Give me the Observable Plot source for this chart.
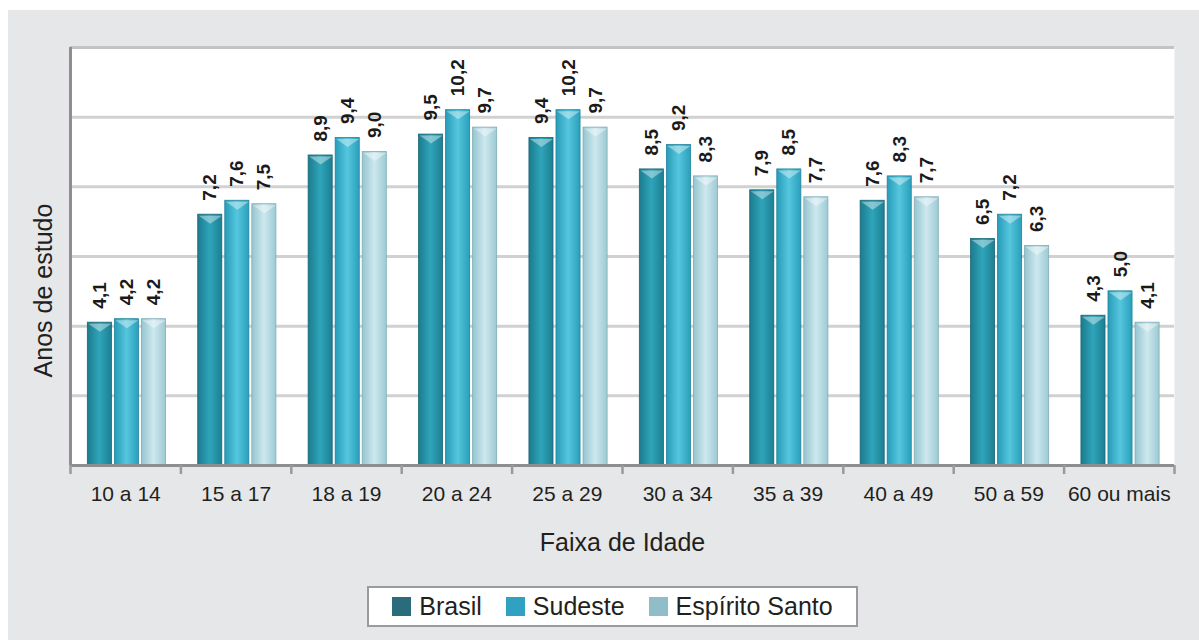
<!DOCTYPE html>
<html>
<head>
<meta charset="utf-8">
<script src="https://cdn.jsdelivr.net/npm/d3@7"></script>
<script src="https://cdn.jsdelivr.net/npm/@observablehq/plot@0.6"></script>
<style>
  html, body { margin: 0; padding: 0; background: #ffffff; }
  body { font-family: "Liberation Sans", Arial, Helvetica, sans-serif; width: 1199px; height: 640px; overflow: hidden; position: relative; }
  #frame { position: absolute; left: 8px; top: 10px; width: 1191px; height: 630px; background: #e6e7e9; }
  #chart svg { display: block; background: transparent; }
  #legend { position: absolute; left: 359px; top: 576px; width: 487px; height: 37px; border: 2px solid #9b9b9d; background: #ffffff;
            display: flex; align-items: center; justify-content: center; font-size: 25px; color: #231f20; }
  .item { display: flex; align-items: center; margin: 0 12px; }
  .sw { width: 19px; height: 19px; margin-right: 8px; }
</style>
</head>
<body>
<div id="frame">
  <div id="chart"></div>
  <div id="legend"></div>
</div>
<script>
const categories = ["10 a 14", "15 a 17", "18 a 19", "20 a 24", "25 a 29", "30 a 34", "35 a 39", "40 a 49", "50 a 59", "60 ou mais"];
const seriesNames = ["Brasil", "Sudeste", "Espírito Santo"];
const brasil = [4.1, 7.2, 8.9, 9.5, 9.4, 8.5, 7.9, 7.6, 6.5, 4.3];
const sudeste = [4.2, 7.6, 9.4, 10.2, 10.2, 9.2, 8.5, 8.3, 7.2, 5.0];
const espiritoSanto = [4.2, 7.5, 9.0, 9.7, 9.7, 8.3, 7.7, 7.7, 6.3, 4.1];
const yGridTicks = [2, 4, 6, 8, 10];
const yMax = 12;

const seriesValues = [brasil, sudeste, espiritoSanto];
const legendColors = ["#2a6b7c", "#31a1c1", "#8fbec8"];
const gradStops = [
  ["#1c7b8e", "#2fa5ba", "#1d7f92"],
  ["#279cb8", "#55c6de", "#2aa0bb"],
  ["#95c5d0", "#cde8ee", "#9dcad4"]
];
const edgeColors = ["#176675", "#20849c", "#7eacb6"];

// layout of the three bars inside each category (in category units)
const barOffset = 0.157, barStep = 0.245, barWidth = 0.218;

const rows = [];
seriesValues.forEach((vals, j) => {
  vals.forEach((v, i) => {
    rows.push({cat: categories[i], series: seriesNames[j], value: v, i, j});
  });
});
const x1 = d => d.i + barOffset + d.j * barStep;
const x2 = d => x1(d) + barWidth;
const xc = d => x1(d) + barWidth / 2;
const fmt = v => v.toFixed(1).replace(".", ",");

const bevel = {
  draw(ctx) {
    ctx.moveTo(-11.5, 0);
    ctx.lineTo(11.5, 0);
    ctx.lineTo(0, 8);
    ctx.closePath();
  }
};

const bars = seriesNames.map((s, j) =>
  Plot.rectY(rows.filter(d => d.j === j), {
    x1, x2, y1: 0, y2: "value",
    fill: `url(#grad${j})`, stroke: edgeColors[j], strokeWidth: 0.8
  })
);

const plot = Plot.plot({
  width: 1191,
  height: 560,
  marginLeft: 62,
  marginRight: 25,
  marginTop: 37,
  marginBottom: 105,
  style: { fontFamily: "'Liberation Sans', Arial, sans-serif", background: "transparent", color: "#231f20" },
  x: { type: "linear", domain: [0, categories.length], axis: null },
  y: { domain: [0, yMax], axis: null },
  marks: [
    Plot.frame({ fill: "white", stroke: null }),
    Plot.gridY({ ticks: yGridTicks, stroke: "#d1d1d2", strokeOpacity: 1, strokeWidth: 3 }),
    Plot.ruleY([yMax], { stroke: "#c3c3c7", strokeWidth: 3 }),
    ...bars,
    Plot.dot(rows, { x: xc, y: "value", symbol: bevel, fill: "white", fillOpacity: 0.4, stroke: null, dy: 1 }),
    Plot.ruleX([0], { stroke: "#8e8e90", strokeWidth: 3 }),
    Plot.ruleY([0], { stroke: "#8e8e90", strokeWidth: 3 }),
    Plot.axisX({ ticks: d3.range(0, categories.length + 1), tickFormat: () => "", tickSize: 9, stroke: "#9a9a9c", strokeWidth: 2.5 }),
    Plot.axisX({ ticks: categories.map((_, i) => i + 0.5), tickFormat: d => categories[Math.floor(d)], tickSize: 0, tickPadding: 21, fontSize: 21, fill: "#231f20" }),
    Plot.text(rows, {
      x: xc, y: "value", text: d => fmt(d.value), rotate: -90, textAnchor: "start",
      dy: -14, fontSize: 19, fontWeight: "bold", fill: "#1a1a1a"
    }),
    Plot.text(["Anos de estudo"], { frameAnchor: "left", textAnchor: "middle", rotate: -90, dx: -27, dy: 34, fontSize: 25, fill: "#231f20" }),
    Plot.text(["Faixa de Idade"], { frameAnchor: "bottom", dy: 85, fontSize: 25, fill: "#231f20" })
  ]
});

// gradients for the bars
const defs = d3.select(plot).insert("defs", ":first-child");
gradStops.forEach((stops, j) => {
  const g = defs.append("linearGradient").attr("id", `grad${j}`).attr("x1", "0").attr("x2", "1").attr("y1", "0").attr("y2", "0");
  g.append("stop").attr("offset", "0%").attr("stop-color", stops[0]);
  g.append("stop").attr("offset", "50%").attr("stop-color", stops[1]);
  g.append("stop").attr("offset", "100%").attr("stop-color", stops[2]);
});

document.getElementById("chart").appendChild(plot);

const legend = d3.select("#legend");
seriesNames.forEach((s, j) => {
  const it = legend.append("div").attr("class", "item");
  it.append("div").attr("class", "sw").style("background", legendColors[j]);
  it.append("span").text(s);
});
</script>
</body>
</html>
